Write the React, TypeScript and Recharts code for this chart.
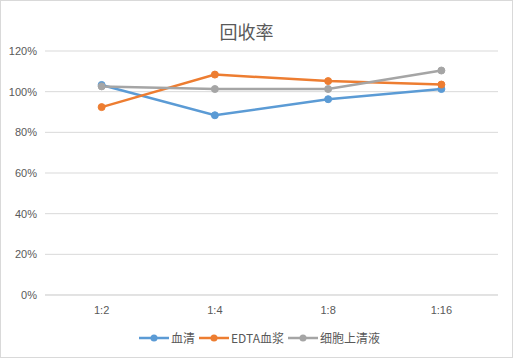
import React from "react";
import { LineChart, Line, XAxis, YAxis, CartesianGrid } from "recharts";

// dilution ratios on the x axis
const ratios = ["1:2", "1:4", "1:8", "1:16"];

// recovery (%)
const serum = [103.3, 88.4, 96.3, 101.3];
const edtaPlasma = [92.4, 108.4, 105.2, 103.5];
const cellSupernatant = [102.6, 101.3, 101.3, 110.4];

const yTicks = [0, 20, 40, 60, 80, 100, 120];

const series = [
  { key: "serum", name: "血清", color: "#5B9BD5" },
  { key: "edta", name: "EDTA血浆", color: "#ED7D31" },
  { key: "cell", name: "细胞上清液", color: "#A5A5A5" },
];

const data = ratios.map((r, i) => ({
  ratio: r,
  serum: serum[i],
  edta: edtaPlasma[i],
  cell: cellSupernatant[i],
}));

const tickStyle = {
  fontSize: 11,
  fill: "#595959",
  fontFamily: "'Liberation Sans', Arial, sans-serif",
};

const App: React.FC = () => {
  return (
    <div
      style={{
        position: "fixed",
        left: 0,
        top: 0,
        width: 513,
        height: 358,
        boxSizing: "border-box",
        border: "1px solid #D9D9D9",
        background: "#fff",
      }}
    >
      <div
        style={{
          position: "absolute",
          top: 18,
          left: 0,
          width: "100%",
          textAlign: "center",
          paddingRight: 20,
          boxSizing: "border-box",
          fontSize: 18,
          color: "#595959",
          fontFamily: "'Noto Sans CJK SC', sans-serif",
          lineHeight: "24px",
        }}
      >
        回收率
      </div>
      <LineChart
        width={511}
        height={356}
        data={data}
        margin={{ top: 50, right: 14, bottom: 32, left: 0 }}
        style={{ position: "absolute", left: 0, top: 0 }}
      >
        <CartesianGrid vertical={false} stroke="#D9D9D9" />
        <XAxis
          dataKey="ratio"
          scale="band"
          height={30}
          axisLine={{ stroke: "#D9D9D9" }}
          tickLine={false}
          tickSize={0}
          tickMargin={11}
          tick={tickStyle}
        />
        <YAxis
          width={44}
          domain={[0, 120]}
          ticks={yTicks}
          tickFormatter={(v: number) => `${v}%`}
          axisLine={false}
          tickLine={false}
          tickSize={0}
          tickMargin={8}
          tick={tickStyle}
        />
        {series.map((s) => (
          <Line
            key={s.key}
            type="linear"
            dataKey={s.key}
            name={s.name}
            stroke={s.color}
            strokeWidth={2.5}
            dot={{ r: 3.5, fill: s.color, stroke: s.color, strokeWidth: 1 }}
            isAnimationActive={false}
          />
        ))}
      </LineChart>
      {/* legend, kept in series order */}
      <div
        style={{
          position: "absolute",
          top: 328,
          left: 138,
          display: "flex",
          alignItems: "center",
          fontSize: 12,
          lineHeight: "18px",
          color: "#595959",
          fontFamily: "'Noto Sans CJK SC', 'Liberation Sans', sans-serif",
        }}
      >
        {series.map((s) => (
          <div
            key={s.key}
            style={{ display: "flex", alignItems: "center", marginRight: 4 }}
          >
            <svg width={30} height={10} style={{ marginRight: 2 }}>
              <line x1={0} y1={5} x2={30} y2={5} stroke={s.color} strokeWidth={2.5} />
              <circle cx={15} cy={5} r={3.5} fill={s.color} />
            </svg>
            <span>{s.name}</span>
          </div>
        ))}
      </div>
    </div>
  );
};

export default App;
